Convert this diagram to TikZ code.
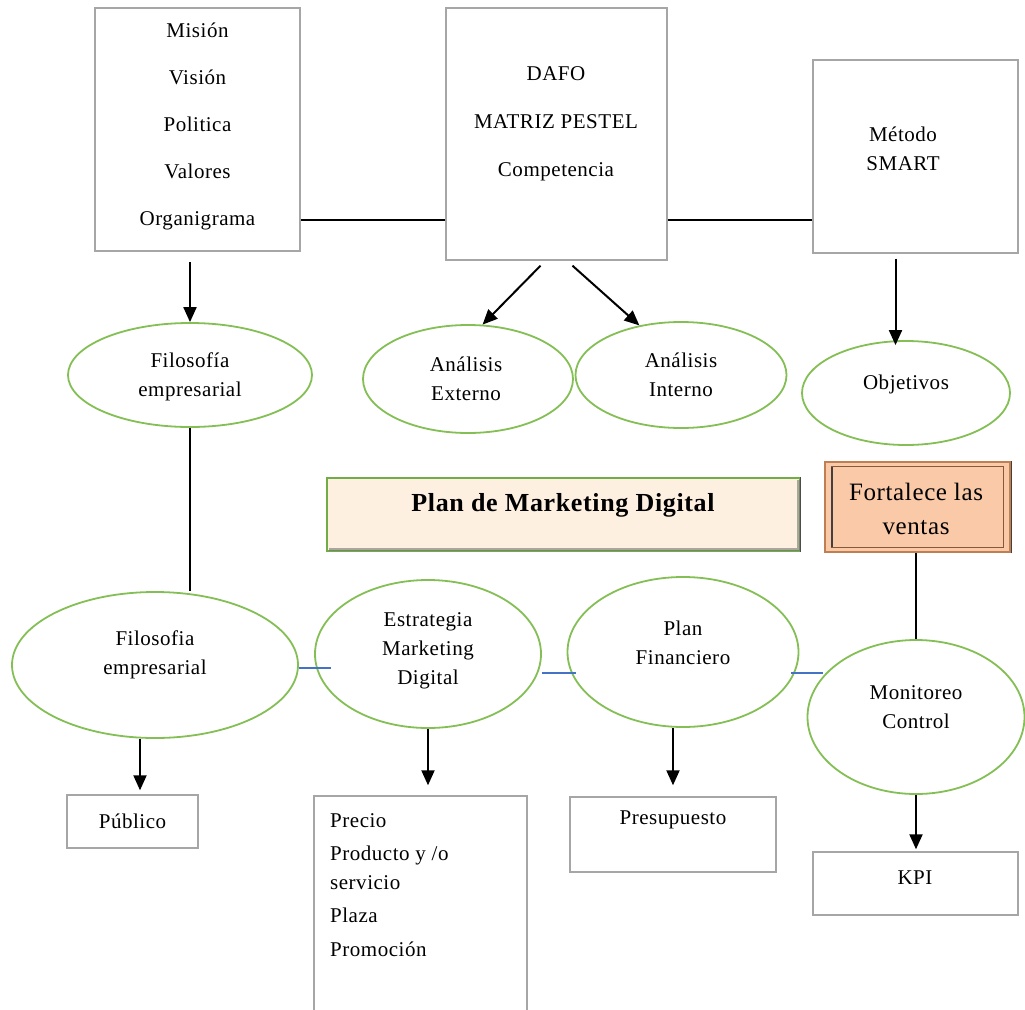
\documentclass[tikz,border=0pt]{standalone}
\usepackage{fontspec}
\setmainfont[LetterSpace=2.5]{Liberation Serif}
\usetikzlibrary{positioning,shapes.geometric,arrows.meta}

\definecolor{cajagris}{HTML}{A6A6A6}
\definecolor{verde}{HTML}{84BF55}
\definecolor{azul}{HTML}{4472C4}
\definecolor{planfondo}{HTML}{FEF0E1}
\definecolor{planborde}{HTML}{70AD47}
\definecolor{fortfondo}{HTML}{F9C9A8}
\definecolor{fortborde}{HTML}{C07F52}

\begin{document}
\begin{tikzpicture}[x=1pt,y=-1pt,
	every node/.style={font=\fontsize{21}{29}\selectfont,align=center},
	caja/.style={draw=cajagris,line width=1.4pt,inner sep=0pt},
	elipse/.style={draw=verde,line width=1.8pt,ellipse,inner sep=0pt},
	flecha/.style={line width=2pt,-{Triangle[length=15pt,width=13pt]}},
	linea/.style={line width=1.8pt},
	enlace/.style={draw=azul,line width=1.4pt}]

\useasboundingbox (0,0) rectangle (1025,1009);

% cajas de arriba
\node[caja,minimum width=205,minimum height=243] (mision) at (197.5,129.5) {};
\node[caja,minimum width=221,minimum height=252] (dafo) at (556.5,134) {};
\node[caja,minimum width=205,minimum height=193] (smart) at (915.5,156.5) {};
\node (mision-t) at (197.5,126) {Misión\\[18pt]Visión\\[18pt]Politica\\[18pt]Valores\\[18pt]Organigrama};
\node (dafo-t) at (556,124) {DAFO\\[19pt]MATRIZ PESTEL\\[19pt]Competencia};
\node (smart-t) at (903,149) {Método\\SMART};
\draw[linea] (mision.east |- 0,220) -- (dafo.west |- 0,220);
\draw[linea] (dafo.east |- 0,220) -- (smart.west |- 0,220);

% elipses de arriba
\node[elipse,minimum width=244,minimum height=104] (filo1) at (190,375) {};
\node[elipse,minimum width=210,minimum height=108] (ext) at (468,379) {};
\node[elipse,minimum width=211,minimum height=106] (int) at (681,375) {};
\node[elipse,minimum width=208,minimum height=104] (obj) at (906,393) {};
\node at (190,377) {Filosofía\\empresarial};
\node at (466,379) {Análisis\\Externo};
\node at (681,375) {Análisis\\Interno};
\node at (906,384) {Objetivos};
\draw[flecha] (filo1.north |- 0,262) -- (filo1.north);
\draw[flecha] ([xshift=-16pt,yshift=-5pt]dafo.south) -- (ext.75);
\draw[flecha] ([xshift=16pt,yshift=-5pt]dafo.south) -- (int.130);
\draw[flecha] ([xshift=-20pt,yshift=-5pt]smart.south) -- ([xshift=-20pt,yshift=-5pt]smart.south |- obj.north);

% titulo y recuadro
\node[draw=planborde,line width=1.5pt,fill=planfondo,minimum width=473,minimum height=73] (plan) at (563.5,514.5) {};
\draw[line width=3pt,draw=black!55,opacity=.6] ([xshift=3pt,yshift=2.5pt]plan.south west) -- ([xshift=-2.5pt,yshift=2.5pt]plan.south east) -- ([xshift=-2.5pt,yshift=-3pt]plan.north east);
\draw[line width=1.2pt,draw=black!70] (plan.south east) -- (plan.north east);
\node[font=\fontsize{26}{30}\bfseries] (plan-t) at (563,505) {Plan de Marketing Digital};
\node[draw=fortborde,line width=2.5pt,fill=fortfondo,minimum width=185,minimum height=90] (fort) at (917.5,507) {};
\draw[draw=fortborde!70!black,line width=.8pt] ([shift={(8pt,6pt)}]fort.south west) rectangle ([shift={(-8pt,-6pt)}]fort.north east);
\draw[line width=1.5pt,draw=black!75] ([shift={(8pt,6pt)}]fort.south west) -- ([shift={(8pt,-6pt)}]fort.north west);
\draw[line width=1.2pt,draw=black!75] (fort.south east) -- (fort.north east);
\node[font=\fontsize{25}{34}\selectfont] (fort-t) at (916,509) {Fortalece las\\ventas};

% elipses de abajo
\node[elipse,minimum width=286,minimum height=146] (filo2) at (155,665) {};
\node[elipse,minimum width=226,minimum height=148] (estr) at (428,654) {};
\node[elipse,minimum width=231,minimum height=150] (fin) at (683,652) {};
\node[elipse,minimum width=217,minimum height=154] (mon) at (916,717) {};
\node at (155,655) {Filosofia\\empresarial};
\node at (428,651) {Estrategia\\Marketing\\Digital};
\node at (683,643) {Plan\\Financiero};
\node at (916,707) {Monitoreo\\Control};
\draw[linea] (filo1.south) -- (filo1.south |- filo2.north);
\draw[linea] (mon.north |- fort.south) -- (mon.north);
\draw[enlace] (filo2.east) ++(0,3) -- ++(32,0);
\draw[enlace] (estr.east) ++(0,19) -- ++(34,0);
\draw[enlace] (fin.east) ++(-8,21) -- ++(32,0);

% cajas de abajo
\node[caja,minimum width=131,minimum height=53] (publico) at (132.5,821.5) {Público};
\node[caja,minimum width=213,minimum height=240] (mezcla) at (420.5,916) {};
\node[caja,minimum width=206,minimum height=75] (presup) at (673,834.5) {};
\node[caja,minimum width=205,minimum height=63] (kpi) at (915.5,883.5) {};
\node[align=left,anchor=north west,inner sep=0pt,font=\fontsize{21}{28.5}\selectfont] (mezcla-t) at (330,813) {Precio\\[5pt]Producto y /o\\servicio\\[5pt]Plaza\\[5pt]Promoción};
\node (presup-t) at (673,820) {Presupuesto};
\node (kpi-t) at (915,878) {KPI};
\draw[flecha,shorten >=4pt] (filo2.south -| 140,0) -- (publico.north -| 140,0);
\draw[flecha,shorten >=10pt] (estr.south) -- (estr.south |- mezcla.north);
\draw[flecha,shorten >=11pt] (presup.north |- fin.south) -- (presup.north);
\draw[flecha,shorten >=2pt] (mon.south) -- (mon.south |- kpi.north);
\end{tikzpicture}
\end{document}
